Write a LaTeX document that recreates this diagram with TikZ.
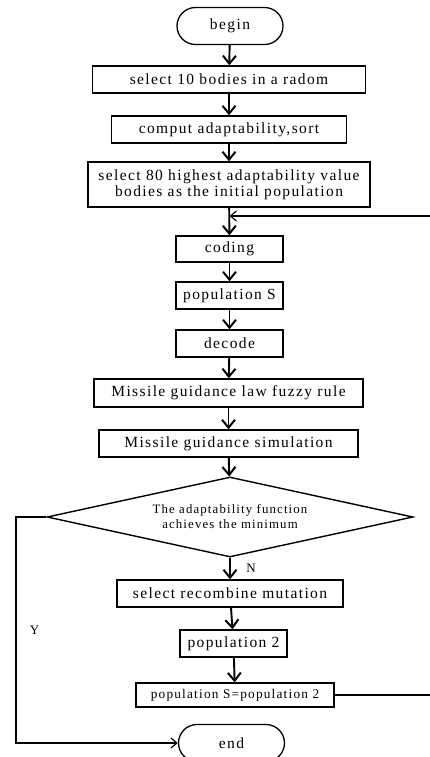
\documentclass[tikz,border=0pt]{standalone}
\usepackage{fontspec}
\setmainfont[LetterSpace=9]{Liberation Serif}
\usetikzlibrary{shapes.geometric,shapes.misc,arrows.meta}

\begin{document}
\begin{tikzpicture}[x=1pt,y=-1pt,
   every node/.style={font=\fontsize{15.5}{16}\selectfont},
   box/.style={draw,line width=1.4pt,inner sep=0pt,minimum height=27pt},
   term/.style={draw,rounded rectangle,line width=1.3pt,inner sep=0pt,
      minimum width=106pt,minimum height=37pt},
   test/.style={draw,diamond,line width=1.4pt,inner sep=0pt,aspect=4.6,
      minimum width=366pt,minimum height=80pt},
   flow/.style={line width=1.9pt,-{Straight Barb[length=8pt,width=13pt,line width=2pt]}},
   back/.style={line width=1.1pt,-{Straight Barb[length=6pt,width=10pt,line width=1.2pt]}}]
\useasboundingbox (0,0) rectangle (429,757);

\node[term] (begin) at (230,26) {begin};
\node[box,minimum width=273pt] (pick) at (229,79.5) {select 10 bodies in a radom};
\node[box,minimum width=235pt] (comp) at (229,129.5) {comput adaptability,sort};
\node[box,minimum width=282pt,minimum height=45pt,align=center] (init) at (229,184.5)
   {select 80 highest adaptability value\\bodies as the initial population};
\coordinate (merge) at (229.5,216);
\node[box,minimum width=107pt,minimum height=26pt] (coding) at (229.5,249) {coding};
\node[box,minimum width=107pt] (popS) at (229.5,295.5) {population S};
\node[box,minimum width=107pt] (decode) at (229.5,343.5) {decode};
\node[box,minimum width=269pt,minimum height=28pt] (rule) at (228.5,393) {Missile guidance law  fuzzy rule};
\node[box,minimum width=259pt] (simu) at (228.5,443.5) {Missile guidance simulation};
\node[test,align=center,font=\fontsize{12.8}{15}\selectfont] (cond) at (230,517)
   {The adaptability function\\achieves the minimum};
\node[box,minimum width=226pt] (recomb) at (230,593.5) {select recombine mutation};
\node[box,minimum width=107pt] (popII) at (233.5,643.5) {population 2};
\node[box,minimum width=198pt,minimum height=24pt,font=\fontsize{13.3}{15}\selectfont] (assign) at (235,695)
   {population S=population 2};
\node[term] (end) at (231.5,743) {end};

\coordinate (right) at (430.5,216);
\coordinate (left) at (16,517);

% main flow
\draw[flow] (begin) -- (pick);
\draw[flow] (pick) -- (comp);
\draw[flow] (comp) -- (init);
\draw[flow] (init) -- (coding);
\draw[flow] (coding) -- (popS);
\draw[flow] (popS) -- (decode);
\draw[flow] (decode) -- (rule);
\draw[flow] (rule) -- (simu);
\draw[flow] (simu) -- (cond);
\draw[flow] (cond) -- node[right,xshift=12pt,font=\fontsize{13}{15}\selectfont] {N} (recomb);
\draw[flow] (recomb) -- (popII);
\draw[flow] (popII) -- (assign);

% loops
\draw[back] (assign.east) -| (right) -- (merge);
\draw[back] (cond.west) -- (left) |- node[pos=0.25,right,xshift=10pt,font=\fontsize{13}{15}\selectfont] {Y} (end.west);
\end{tikzpicture}
\end{document}
